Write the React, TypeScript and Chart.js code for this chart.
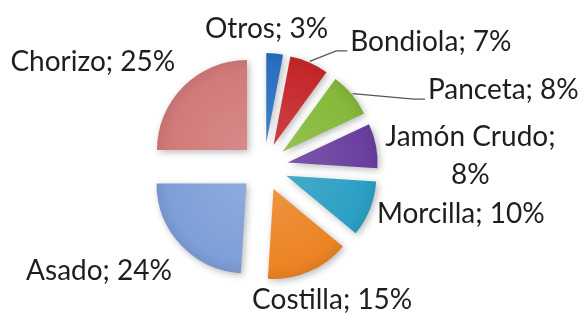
import React, { useEffect, useRef } from "react";
import { Chart, registerables } from "chart.js";

Chart.register(...registerables);

const categories = ["Otros", "Bondiola", "Panceta", "Jamón Crudo", "Morcilla", "Costilla", "Asado", "Chorizo"];
const shares = [3, 7, 8, 8, 10, 15, 24, 25];
const sliceColors = ["#2a6fc0", "#c5282b", "#86b83a", "#6a40a0", "#2ba0c4", "#ec8424", "#7f9fd8", "#d27a7a"];

// label layout: alignment, line breaks, nudge from the radial anchor, leader line flag
const labelAlign = ["center", "left", "left", "center", "left", "center", "right", "right"];
const labelLines = [["Otros; 3%"], ["Bondiola; 7%"], ["Panceta; 8%"], ["Jamón Crudo;", "8%"], ["Morcilla; 10%"], ["Costilla; 15%"], ["Asado; 24%"], ["Chorizo; 25%"]];
const labelNudge = [[-11, 5], [29, 7], [53, 15], [65, 16], [-21, -6], [11, 1], [13, 5], [13, -3]];
const labelLeader = [false, true, true, false, false, false, false, false];

const EXPLODE = 24;
const PIE_RADIUS = 90;
const FONT_SIZE = 28;
const FONT = `${FONT_SIZE}px Lato, "Noto Sans", sans-serif`;
const LINE_H = 38;

function shade(hex: string, amt: number) {
  const n = parseInt(hex.slice(1), 16);
  const r = (n >> 16) & 255, g = (n >> 8) & 255, b = n & 255;
  const f = (c: number) => Math.max(0, Math.min(255, Math.round(amt >= 0 ? c + (255 - c) * amt : c * (1 + amt))));
  return `rgb(${f(r)},${f(g)},${f(b)})`;
}

// draws each slice pulled out along its bisector, with a soft shadow
const explodePlugin = {
  id: "explodeSlices",
  beforeDatasetDraw(chart: any, args: any) {
    const ctx = chart.ctx;
    args.meta.data.forEach((arc: any) => {
      const p = arc.getProps(["startAngle", "endAngle"], true);
      const mid = (p.startAngle + p.endAngle) / 2;
      ctx.save();
      ctx.shadowColor = "rgba(0,0,0,0.28)";
      ctx.shadowBlur = 7;
      ctx.shadowOffsetX = 2;
      ctx.shadowOffsetY = 2;
      ctx.translate(Math.cos(mid) * EXPLODE, Math.sin(mid) * EXPLODE);
      arc.draw(ctx);
      ctx.restore();
    });
    return false;
  },
};

const labelPlugin = {
  id: "sliceLabels",
  afterDraw(chart: any) {
    const ctx = chart.ctx;
    const meta = chart.getDatasetMeta(0);
    ctx.save();
    ctx.font = FONT;
    ctx.fillStyle = "#1e1e1e";
    ctx.textBaseline = "middle";
    meta.data.forEach((arc: any, i: number) => {
      const p = arc.getProps(["x", "y", "startAngle", "endAngle", "outerRadius"], true);
      const mid = (p.startAngle + p.endAngle) / 2;
      const rr = p.outerRadius + EXPLODE + 30;
      const ax = p.x + Math.cos(mid) * rr + labelNudge[i][0];
      const ay = p.y + Math.sin(mid) * rr + labelNudge[i][1];
      const lines = labelLines[i];
      ctx.textAlign = labelAlign[i];
      const y0 = ay - ((lines.length - 1) * LINE_H) / 2;
      lines.forEach((t, k) => ctx.fillText(t, ax, y0 + k * LINE_H));
      if (labelLeader[i]) {
        const sr = p.outerRadius + EXPLODE + 1;
        const sx = p.x + Math.cos(mid) * sr;
        const sy = p.y + Math.sin(mid) * sr;
        const ex = ax - 3;
        const ey = ay + 9;
        ctx.beginPath();
        ctx.strokeStyle = "#555";
        ctx.lineWidth = 1.3;
        ctx.moveTo(sx, sy);
        ctx.lineTo(ex - 11, ey);
        ctx.lineTo(ex, ey);
        ctx.stroke();
      }
    });
    ctx.restore();
  },
};

export default function App() {
  const ref = useRef<HTMLCanvasElement | null>(null);
  useEffect(() => {
    if (!ref.current) return;
    const chart = new Chart(ref.current, {
      type: "pie",
      data: {
        labels: categories,
        datasets: [
          {
            data: shares,
            backgroundColor: (c: any) => {
              const base = sliceColors[c.dataIndex % sliceColors.length];
              const area = c.chart.chartArea;
              if (!area) return base;
              const cx = (area.left + area.right) / 2;
              const cy = (area.top + area.bottom) / 2;
              const g = c.chart.ctx.createRadialGradient(cx, cy, 0, cx, cy, PIE_RADIUS + 2);
              g.addColorStop(0, shade(base, 0.12));
              g.addColorStop(0.85, base);
              g.addColorStop(1, shade(base, -0.08));
              return g;
            },
            borderWidth: 0,
            offset: 0,
            hoverOffset: 0,
            radius: PIE_RADIUS,
          } as any,
        ],
      },
      options: {
        responsive: false,
        animation: false,
        layout: { padding: { left: 0, right: 58, top: 65, bottom: 44 } },
        plugins: { legend: { display: false }, tooltip: { enabled: false } },
      },
      plugins: [explodePlugin, labelPlugin],
    });
    return () => chart.destroy();
  }, []);
  return (
    <div style={{ position: "absolute", left: 0, top: 0, width: 586, height: 313, background: "#fff" }}>
      <canvas ref={ref} width={586} height={313} style={{ display: "block" }} />
    </div>
  );
}
